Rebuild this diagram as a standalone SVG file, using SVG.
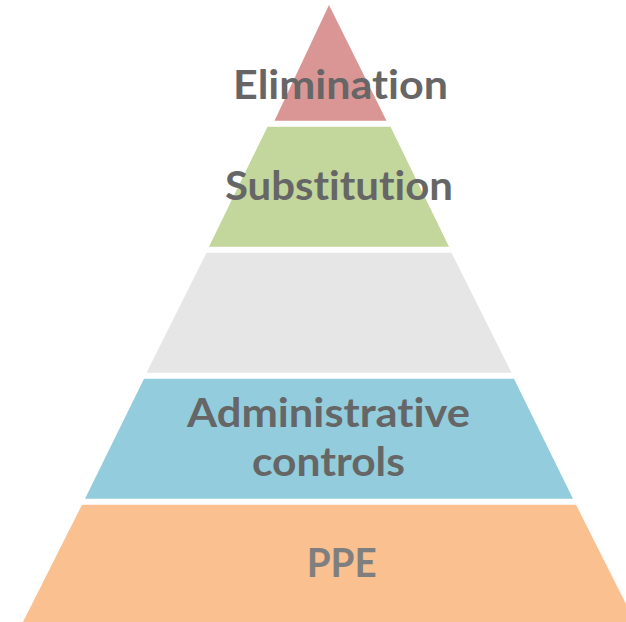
<svg xmlns="http://www.w3.org/2000/svg" width="626" height="622" viewBox="0 0 626 622">
  <style>
    .lbl { font-family: Lato, "Open Sans", "Liberation Sans", sans-serif; font-weight: 700; font-size: 40px; fill: #666666; text-anchor: middle; font-variant-ligatures: none; font-feature-settings: "liga" 0, "dlig" 0; }
    .lbl.light { fill: #7f7f7f; }
  </style>
  <rect width="626" height="622" fill="#ffffff"/>
  <g id="level-elimination">
    <polygon points="329,5 386.5,120.7 274.5,120.7" fill="#d99694"/>
    <text class="lbl" x="340.5" y="99" textLength="215" lengthAdjust="spacingAndGlyphs">Elimination</text>
  </g>
  <g id="level-substitution">
    <polygon points="267.5,126.7 390.5,126.7 449,246.7 209,246.7" fill="#c3d69b"/>
    <text class="lbl" x="339" y="200" textLength="228" lengthAdjust="spacingAndGlyphs">Substitution</text>
  </g>
  <g id="level-engineering">
    <polygon points="206.5,252.7 451.5,252.7 511.5,372.7 146.5,372.7" fill="#e6e6e6"/>
  </g>
  <g id="level-administrative">
    <polygon points="144,378.7 514,378.7 573,498.7 85,498.7" fill="#93cddd"/>
    <text class="lbl" x="328.5" y="427" textLength="283" lengthAdjust="spacingAndGlyphs">Administrative</text>
    <text class="lbl" x="328.4" y="476" textLength="153" lengthAdjust="spacingAndGlyphs">controls</text>
  </g>
  <g id="level-ppe">
    <polygon points="82,504.7 576,504.7 635,622 23,622" fill="#fac090"/>
    <text class="lbl light" x="341.7" y="577" textLength="70" lengthAdjust="spacingAndGlyphs">PPE</text>
  </g>
  <g id="connectors"/>
</svg>
